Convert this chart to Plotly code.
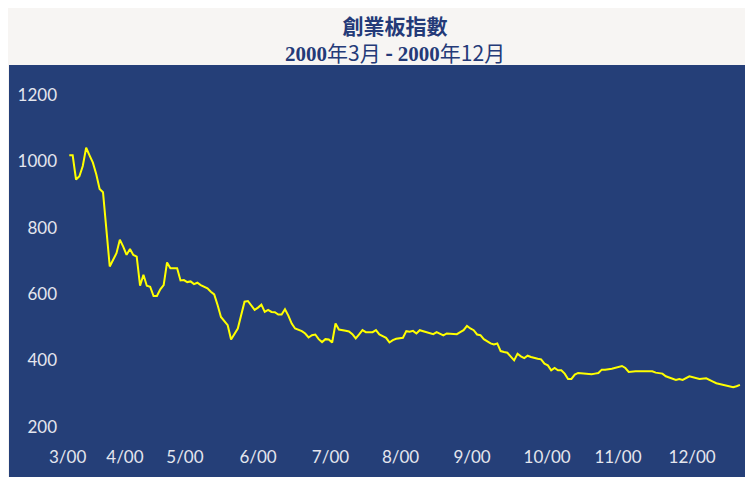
import plotly.graph_objects as go

# Trading-day index (from start of series) and GEM index values
days = [0, 1, 2, 3, 4, 5, 6, 7, 8, 9, 10, 11, 12, 14, 15, 16, 17, 18, 19, 20,
        21, 22, 23, 24, 25, 26, 27, 28, 29, 30, 32, 33, 34, 35, 36, 37, 38, 39, 41, 42,
        43, 44, 45, 47, 48, 50, 51, 52, 53, 55, 56, 57, 58, 59, 60, 61, 62, 63, 64, 65,
        66, 67, 69, 70, 71, 72, 73, 74, 75, 76, 77, 78, 79, 80, 82, 83, 84, 85, 86, 87,
        88, 90, 91, 92, 93, 94, 95, 96, 97, 99, 100, 101, 102, 103, 104, 105, 106, 108, 109, 110,
        111, 112, 113, 115, 116, 117, 118, 119, 120, 121, 122, 123, 125, 126, 127, 128, 129, 130, 132, 133,
        134, 135, 136, 137, 139, 140, 141, 142, 143, 144, 145, 146, 147, 148, 149, 150, 151, 153, 154, 155,
        156, 157, 158, 159, 161, 162, 164, 165, 166, 168, 170, 171, 173, 174, 175, 176, 177, 179, 180, 181,
        182, 184, 185, 186, 187, 189, 190, 191, 192, 194, 195, 196, 197, 198, 199]
index_values = [1018, 1018, 945, 955, 986, 1041, 1018, 996, 961, 917, 907, 799, 683, 723, 764, 743, 718, 736, 718, 713,
                625, 658, 625, 622, 594, 594, 614, 627, 695, 678, 678, 641, 642, 636, 638, 630, 634, 627, 617, 607,
                599, 567, 531, 506, 463, 496, 533, 577, 579, 552, 559, 568, 546, 552, 546, 545, 538, 538, 554, 535,
                511, 496, 488, 481, 469, 476, 478, 464, 455, 464, 463, 454, 511, 493, 489, 487, 479, 466, 478, 491,
                485, 485, 491, 478, 473, 468, 454, 461, 465, 468, 488, 486, 489, 481, 491, 488, 483, 479, 485, 480,
                475, 481, 480, 479, 485, 491, 504, 496, 491, 478, 476, 464, 451, 448, 451, 428, 425, 423, 400, 420,
                412, 407, 414, 410, 405, 403, 390, 385, 370, 377, 370, 370, 360, 344, 344, 357, 362, 360, 358, 358,
                360, 362, 372, 372, 375, 378, 383, 377, 365, 367, 367, 365, 367, 363, 362, 360, 352, 344, 341, 344,
                341, 352, 349, 347, 344, 346, 340, 336, 331, 326, 324, 321, 319, 322, 326]

# Month tick labels and their positions on the trading-day axis
month_pos = [-0.5, 16.5, 34.3, 56, 77.5, 98.3, 119.5, 141.8, 162.8, 184.8]
month_labels = ["3/00", "4/00", "5/00", "6/00", "7/00", "8/00", "9/00", "10/00", "11/00", "12/00"]
y_ticks = [200, 400, 600, 800, 1000, 1200]

# the page body has an 8px margin, so the figure is drawn 8px smaller and offset
OFF = 8
W, H = 753 - OFF, 477 - OFF
PL, PR, PT, PB = 60, 745, 70, 445          # plot box in window pixels
L, R, T, B = PL - OFF, (W + OFF) - PR, PT - OFF, (H + OFF) - PB
pw, ph = PR - PL, PB - PT

NAVY = "#253f78"
TITLE = "#243a78"


def px_x(x):
    return (x - PL) / pw


def px_y(y):
    return (PB - y) / ph


fig = go.Figure()
fig.add_trace(go.Scatter(x=days, y=index_values, mode="lines",
                         line=dict(color="#ffff00", width=2), hoverinfo="skip"))

fig.add_shape(type="rect", xref="paper", yref="paper",
              x0=px_x(9), x1=px_x(760), y0=px_y(480), y1=px_y(65),
              fillcolor=NAVY, line=dict(width=0), layer="below")

fig.add_annotation(xref="paper", yref="paper", x=px_x(395), y=px_y(8.5),
                   text="<b>創業板指數</b><br>"
                        "<span style='font-family:Liberation Serif'><b>2000</b></span>年3月 <b>-</b> "
                        "<span style='font-family:Liberation Serif'><b>2000</b></span>年12月",
                   showarrow=False, xanchor="center", yanchor="top", align="center",
                   borderpad=0,
                   font=dict(family="Noto Sans CJK TC", size=21, color=TITLE))

tick_font = dict(family="Lato, Open Sans, sans-serif", size=17, color="#e4e6ee")

fig.update_layout(
    width=W, height=H,
    margin=dict(l=L, r=R, t=T, b=B, pad=0),
    paper_bgcolor="#f7f5f3",
    plot_bgcolor="rgba(0,0,0,0)",
    showlegend=False,
    xaxis=dict(range=[(PL - 69.3) / 3.37, (PR - 69.3) / 3.37],
               tickmode="array", tickvals=month_pos, ticktext=month_labels,
               showgrid=False, zeroline=False, showline=False, ticks="",
               tickfont=tick_font, fixedrange=True),
    yaxis=dict(range=[200 - (PB - 426.7) / 0.3317, 200 + (426.7 - PT) / 0.3317],
               tickmode="array", tickvals=y_ticks,
               showgrid=False, zeroline=False, showline=False, ticks="",
               tickfont=tick_font, ticklabelstandoff=2, fixedrange=True),
)

fig.write_html("out.html")
